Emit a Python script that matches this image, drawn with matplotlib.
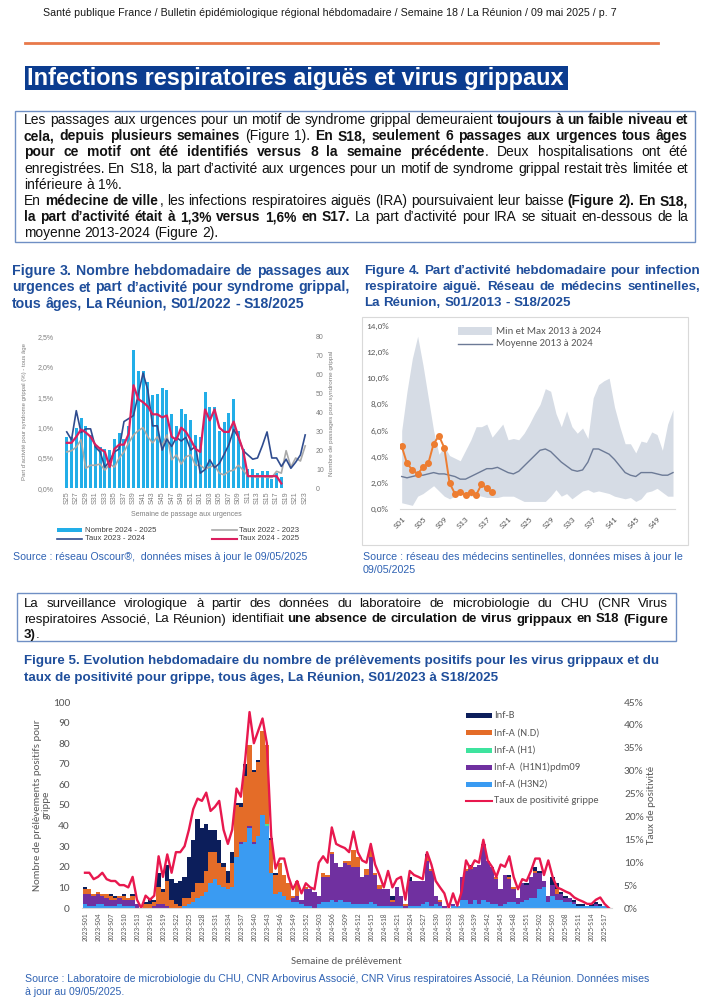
import matplotlib
matplotlib.use('Agg')
import matplotlib.pyplot as plt
from matplotlib import font_manager
from matplotlib.patches import Rectangle
from matplotlib.lines import Line2D
import numpy as np

# ------------------------------------------------------------------ data
# Figure 3 : passages aux urgences (S25 -> S24)
weeks3 = ['S%02d' % w for w in list(range(25, 53)) + list(range(1, 25))]
nombre_2425 = [27, 27, 32, 37, 33, 28, 23, 22, 21, 20, 26, 29, 26, 33, 73, 62, 62, 56, 49, 50,
               53, 52, 39, 33, 42, 39, 36, 28, 27, 51, 43, 43, 30, 35, 40, 47, 30, 21, 10, 10,
               8, 9, 9, 5, 8, 6]
taux_2223 = [0.6, 0.62, 0.68, 0.8, 0.33, 0.38, 0.38, 0.4, 0.3, 0.4, 0.35, 0.5, 0.6, 0.75, 0.88,
             0.95, 1.0, 0.85, 0.75, 0.85, 0.7, 0.88, 0.47, 0.55, 0.4, 0.52, 0.55, 0.38, 0.38, 0.32,
             0.35, 0.38, 0.25, 0.22, 0.28, 0.3, 0.38, 0.3, 0.2, 0.2, 0.18, 0.2, 0.18, 0.18, 0.28,
             0.25, 0.62, 0.35, 0.5, 0.45, 0.7]
taux_2324 = [0.93, 0.8, 1.28, 0.92, 0.98, 0.98, 0.68, 0.6, 0.35, 0.45, 0.6, 0.65, 1.1, 1.15, 1.2,
             1.55, 1.9, 1.62, 1.03, 1.03, 0.63, 0.81, 0.69, 0.84, 0.78, 0.84, 0.63, 0.69, 0.25, 0.31,
             0.47, 0.34, 0.41, 0.56, 0.72, 0.97, 0.84, 0.62, 0.55, 0.48, 0.5, 0.7, 0.93, 0.5, 0.5,
             0.36, 0.48, 0.33, 0.43, 0.55, 0.88]
taux_2425 = [0.75, 0.75, 0.85, 0.97, 0.92, 0.85, 0.72, 0.65, 0.6, 0.35, 0.65, 0.72, 0.72, 0.9, 1.7,
             1.47, 1.42, 1.35, 1.22, 1.22, 1.17, 1.2, 0.85, 0.8, 1.0, 0.93, 0.8, 0.65, 0.6, 1.3,
             1.12, 1.3, 1.0, 0.93, 0.93, 1.1, 0.85, 0.62, 0.2, 0.2, 0.2, 0.2, 0.2, 0.2, 0.2, 0.08]

# Figure 4 : IRA medecins sentinelles (S01 -> S52)
weeks4 = ['S%02d' % w for w in range(1, 53)]
ira_max = [6.0, 9.0, 11.5, 13.2, 11.0, 8.5, 6.0, 4.2, 4.8, 4.1, 3.9, 3.7, 4.5, 5.3, 6.3, 6.3, 6.5,
           5.5, 6.0, 6.5, 5.3, 5.4, 5.3, 5.8, 6.5, 7.3, 8.0, 9.2, 9.0, 7.3, 6.3, 7.5, 6.3, 5.8, 6.2,
           5.4, 8.5, 9.5, 9.8, 10.0, 7.8, 6.3, 5.0, 5.0, 4.3, 5.2, 5.1, 5.9, 5.7, 4.5, 6.5, 7.6]
ira_min = [0.5, 0.4, 0.3, 1.0, 1.2, 1.5, 1.8, 1.4, 1.0, 0.8, 1.0, 1.2, 1.2, 1.0, 1.1, 1.0, 0.9,
           0.9, 0.9, 1.0, 1.0, 1.0, 0.8, 0.6, 0.6, 0.6, 0.6, 0.6, 1.0, 1.5, 1.0, 1.2, 0.8, 1.1, 1.4,
           1.5, 1.3, 1.4, 1.3, 1.2, 1.0, 0.9, 0.8, 0.9, 0.6, 0.8, 1.3, 1.4, 1.6, 1.3, 1.0, 1.0]
ira_mean = [2.5, 2.4, 2.5, 2.6, 2.6, 2.7, 2.8, 2.7, 2.7, 2.6, 2.5, 2.3, 2.3, 2.5, 2.7, 2.9, 3.1,
            3.1, 3.2, 3.0, 2.8, 2.7, 2.9, 3.3, 3.7, 4.1, 4.5, 4.6, 4.4, 4.0, 3.6, 3.3, 3.0, 2.9, 3.0,
            3.6, 4.6, 4.6, 4.4, 4.2, 3.8, 3.3, 2.8, 2.6, 2.5, 2.8, 2.8, 2.8, 2.7, 2.6, 2.6, 2.8]
ira_2025 = [4.8, 3.5, 3.0, 2.7, 3.2, 3.5, 5.0, 5.6, 4.7, 2.0, 1.2, 1.3, 1.1, 1.3, 1.1, 1.9, 1.6, 1.3]

# Figure 5 : prelevements positifs grippe (2023-S01 -> 2025-S18)
weeks5 = (['2023-S%02d' % w for w in range(1, 53)] + ['2024-S%02d' % w for w in range(1, 53)]
          + ['2025-S%02d' % w for w in range(1, 19)])
inf_h3n2 = [2, 1, 1, 2, 2, 1, 1, 1, 2, 1, 1, 1, 0, 0, 0, 0, 0, 0, 0, 0,
            0, 0, 0, 1, 2, 3, 5, 6, 8, 12, 14, 11, 10, 9, 10, 25, 31, 32, 39, 31,
            35, 45, 40, 17, 7, 8, 6, 4, 3, 3, 2, 1, 1, 0, 2, 3, 3, 4, 3, 4,
            3, 3, 2, 2, 2, 2, 3, 2, 1, 1, 1, 1, 1, 1, 0, 1, 1, 1, 2, 3,
            1, 2, 1, 0, 0, 1, 1, 4, 4, 2, 4, 2, 4, 3, 2, 2, 1, 2, 3, 3,
            2, 3, 4, 5, 5, 9, 10, 3, 6, 4, 4, 3, 3, 2, 1, 1, 1, 1, 1, 1, 1, 0]
inf_h1n1 = [5, 6, 5, 5, 4, 4, 3, 3, 3, 3, 3, 3, 2, 0, 0, 0, 1, 2, 2, 1,
            0, 0, 0, 0, 0, 0, 0, 0, 0, 0, 0, 0, 0, 0, 0, 0, 1, 0, 1, 1,
            0, 0, 0, 0, 0, 0, 0, 0, 2, 3, 2, 8, 8, 8, 4, 12, 12, 22, 19, 16,
            19, 18, 18, 18, 13, 14, 22, 14, 8, 8, 8, 2, 9, 5, 1, 12, 12, 12, 11, 20,
            17, 4, 2, 1, 0, 1, 0, 11, 14, 17, 16, 19, 27, 20, 18, 12, 8, 14, 11, 6,
            3, 9, 7, 10, 12, 8, 3, 3, 5, 3, 3, 2, 2, 1, 0, 0, 0, 0, 1, 0, 0, 0]
inf_h1 = [0] * 42 + [1] + [0] * 79
inf_nd = [2, 2, 1, 1, 1, 2, 2, 1, 1, 2, 1, 2, 0, 0, 2, 2, 2, 8, 6, 12,
          4, 2, 1, 4, 3, 5, 7, 6, 10, 15, 13, 11, 10, 3, 12, 25, 17, 32, 39, 34,
          36, 41, 38, 16, 9, 14, 10, 8, 1, 7, 0, 1, 0, 0, 0, 2, 1, 1, 0, 0,
          1, 2, 8, 5, 0, 3, 3, 1, 2, 0, 0, 1, 0, 0, 1, 0, 0, 0, 0, 2,
          1, 0, 1, 0, 0, 0, 0, 0, 1, 1, 0, 0, 0, 0, 0, 1, 0, 0, 1, 1,
          0, 0, 0, 0, 1, 0, 0, 0, 0, 2, 0, 0, 0, 0, 0, 0, 0, 0, 0, 0, 0, 0]
inf_b = [1, 0, 0, 0, 0, 0, 1, 1, 0, 1, 0, 1, 0, 0, 1, 3, 1, 7, 1, 8,
         10, 10, 12, 10, 20, 25, 31, 27, 23, 11, 11, 11, 2, 6, 5, 1, 2, 6, 0, 1,
         1, 0, 0, 1, 1, 0, 0, 0, 0, 0, 0, 0, 0, 0, 0, 0, 0, 0, 0, 0,
         0, 0, 0, 0, 0, 0, 0, 0, 0, 0, 0, 2, 0, 0, 0, 2, 0, 0, 0, 1,
         0, 0, 0, 0, 0, 0, 0, 0, 0, 1, 0, 0, 0, 0, 0, 0, 0, 0, 1, 0,
         0, 0, 1, 0, 2, 1, 0, 0, 4, 3, 1, 1, 0, 1, 1, 1, 0, 1, 1, 1, 0, 0]
taux_pos = [7.7, 7.7, 6.3, 6.8, 7.7, 6.3, 5.9, 5.9, 5.0, 5.0, 4.5, 6.8, 1.8, 0.0, 2.7, 1.8, 2.7,
            11.3, 6.8, 11.7, 7.7, 12.2, 12.2, 13.5, 17.1, 21.6, 23.9, 23.4, 25.2, 21.2, 22.1, 23.4,
            17.1, 14.0, 17.1, 26.1, 24.3, 32.4, 42.8, 36.0, 38.7, 41.4, 36.0, 15.8, 8.6, 10.8, 10.8,
            6.8, 4.1, 5.9, 3.2, 5.4, 4.5, 4.1, 9.9, 11.3, 9.9, 17.6, 14.0, 13.5, 13.1, 12.2, 16.7,
            12.2, 10.4, 9.9, 14.0, 9.5, 7.2, 4.5, 8.1, 4.5, 6.3, 6.8, 1.8, 8.1, 7.2, 6.8, 6.3, 12.2,
            9.5, 5.9, 4.5, 3.2, 0.0, 3.2, 0.5, 3.6, 10.4, 8.6, 10.4, 9.9, 14.9, 10.4, 9.0, 6.8, 9.5,
            9.0, 11.3, 6.8, 4.1, 6.3, 5.9, 8.1, 10.8, 10.8, 7.2, 10.4, 6.8, 4.5, 4.1, 3.6, 3.2, 2.3,
            1.8, 1.4, 0.9, 0.9, 1.8, 2.3, 0.9, 0.0]

# ------------------------------------------------------------------ fonts
def pick_font(names):
    for n in names:
        try:
            font_manager.findfont(n, fallback_to_default=False)
            return n
        except ValueError:
            pass
    return 'DejaVu Sans'

NARROW = pick_font(['Liberation Sans Narrow', 'Arial Narrow', 'Liberation Sans'])
ARIAL = pick_font(['Liberation Sans', 'Arial'])
CALIBRI = pick_font(['Carlito', 'Lato', 'Open Sans'])

BLUE_T = '#1F4E9B'
BLUE_S = '#2F62B3'
GREY = '#7F7F7F'

W, H = 708, 1000
fig = plt.figure(figsize=(7.08, 10), dpi=100)
rend = fig.canvas.get_renderer()


def fx(x):
    return x / W


def fy(y):
    return 1 - y / H


def put(x, y, s, size, bold=False, color='#111111', family=NARROW, **kw):
    return fig.text(fx(x), fy(y), s, fontsize=size, fontweight='bold' if bold else 'normal',
                    color=color, family=family, **kw)


def text_w(s, size, bold=False, family=NARROW):
    t = fig.text(0, 0, s, fontsize=size, fontweight='bold' if bold else 'normal', family=family)
    w = t.get_window_extent(rend).width
    t.remove()
    return w


def fit(s, width, bold=False, family=NARROW):
    return 10 * width / text_w(s, 10, bold, family)


def parse(line, bold_all=False):
    words = [[]]
    for k, part in enumerate(line.split('**')):
        bold = bold_all or (k % 2 == 1)
        for j, p in enumerate(part.split(' ')):
            if j > 0:
                words.append([])
            if p:
                words[-1].append((p, bold))
    return [w for w in words if w]


def word_w(word, size, family):
    return sum(text_w(p, size, b, family) for p, b in word)


def justified(lines, x0, x1, y0, dy, color='#111111', family=NARROW, bold_all=False):
    parsed = [parse(l, bold_all) for l in lines]
    sp10 = text_w('a a', 10, False, family) - text_w('aa', 10, False, family)
    ratios = []
    for words in parsed[:-1]:
        nat = sum(word_w(w, 10, family) for w in words) + sp10 * (len(words) - 1)
        ratios.append((x1 - x0) / nat)
    size = 10 * min(ratios)
    sp = sp10 * size / 10
    for n, words in enumerate(parsed):
        widths = [word_w(w, size, family) for w in words]
        if n == len(parsed) - 1:
            gap = sp
        else:
            gap = (x1 - x0 - sum(widths)) / (len(words) - 1)
        x = x0
        for w, wd in zip(words, widths):
            xx = x
            for p, b in w:
                put(xx, y0 + n * dy, p, size, b, color, family, va='baseline')
                xx += text_w(p, size, b, family)
            x += wd + gap
    return size


def frame(x0, y0, x1, y1, ec, lw=1.0):
    fig.add_artist(Rectangle((fx(x0), fy(y1)), (x1 - x0) / W, (y1 - y0) / H, fill=False,
                             ec=ec, lw=lw, transform=fig.transFigure))


def hline(x0, x1, y, color, lw):
    fig.add_artist(Line2D([fx(x0), fx(x1)], [fy(y), fy(y)], color=color, lw=lw))


def patch(x0, x1, yc, h, color):
    fig.add_artist(Rectangle((fx(x0), fy(yc + h / 2)), (x1 - x0) / W, h / H, color=color,
                             lw=0, transform=fig.transFigure))

# ------------------------------------------------------------------ page header
header = ('Santé publique France / Bulletin épidémiologique régional hébdomadaire / '
          'Semaine 18 / La Réunion / 09 mai 2025 / p. 7')
put(43, 16, header, fit(header, 565), color='#1a1a1a', va='baseline')
hline(25, 658, 43, '#E8794A', 2)

fig.add_artist(Rectangle((fx(25), fy(90)), 543 / W, 24 / H, color='#0B3C8F', lw=0,
                         transform=fig.transFigure))
banner = 'Infections respiratoires aiguës et virus grippaux'
put(27, 85, banner, fit(banner, 538, True), True, 'white', va='baseline')

# ------------------------------------------------------------------ text box 1
frame(15, 111, 695, 242, '#6F8FC4')
p1 = ['Les passages aux urgences pour un motif de syndrome grippal demeuraient **toujours à un faible niveau et**',
      '**cela, depuis plusieurs semaines** (Figure 1). **En S18, seulement 6 passages aux urgences tous âges**',
      '**pour ce motif ont été identifiés versus 8 la semaine précédente**. Deux hospitalisations ont été',
      'enregistrées. En S18, la part d’activité aux urgences pour un motif de syndrome grippal restait très limitée et',
      'inférieure à 1%.']
justified(p1, 24, 688, 124, 16.2)
p2 = ['En **médecine de ville**, les infections respiratoires aiguës (IRA) poursuivaient leur baisse **(Figure 2). En S18,**',
      '**la part d’activité était à 1,3% versus 1,6% en S17.** La part d’activité pour IRA se situait en-dessous de la',
      'moyenne 2013-2024 (Figure 2).']
justified(p2, 24, 688, 205, 16)

# ------------------------------------------------------------------ figure titles
justified(['Figure 3. Nombre hebdomadaire de passages aux',
           'urgences et part d’activité pour syndrome grippal,',
           'tous âges, La Réunion, S01/2022 - S18/2025'],
          12, 350, 275, 16.5, BLUE_T, ARIAL, True)
justified(['Figure 4.  Part d’activité hebdomadaire pour infection',
           'respiratoire aiguë. Réseau de médecins sentinelles,',
           'La Réunion, S01/2013 - S18/2025'],
          364, 700, 274, 16, BLUE_T, ARIAL, True)

# ------------------------------------------------------------------ figure 3
x3 = np.arange(len(weeks3))
ax3 = fig.add_axes([fx(63.4), fy(488.3), (313.3 - 63.4) / W, (488.3 - 336.7) / H])
ax3b = ax3.twinx()
ax3b.bar(x3[:len(nombre_2425)], nombre_2425, width=0.62, color='#22AEE8', lw=0)
ax3.plot(x3[:len(taux_2223)], taux_2223, color='#A9A9A9', lw=1.2)
ax3.plot(x3[:len(taux_2324)], taux_2324, color='#2F4C8F', lw=1.2)
ax3.plot(x3[:len(taux_2425)], taux_2425, color='#DB1F5F', lw=1.6)
ax3.set_zorder(ax3b.get_zorder() + 1)
ax3.patch.set_visible(False)
ax3.set_xlim(-0.7, 51.7)
ax3.set_ylim(0, 2.5)
ax3b.set_ylim(0, 80)
ax3.set_yticks(np.arange(0, 2.51, 0.5))
ax3.set_yticklabels([('%.1f%%' % v).replace('.', ',') for v in np.arange(0, 2.51, 0.5)])
ax3b.set_yticks(range(0, 81, 10))
ax3.set_xticks(x3[::2])
ax3.set_xticklabels(weeks3[::2], rotation=90)
for a in (ax3, ax3b):
    for s in a.spines.values():
        s.set_visible(False)
    a.tick_params(length=0, labelsize=5, labelcolor=GREY)
    for l in a.get_xticklabels() + a.get_yticklabels():
        l.set_family(ARIAL)
ax3.tick_params(axis='y', pad=7)
ax3.tick_params(axis='x', pad=2)
ax3b.tick_params(axis='y', pad=2)
put(25, 412, 'Part d’activité pour syndrome grippal (%) - tous âge', 4.3, color=GREY, family=ARIAL,
    rotation=90, ha='center', va='center')
put(332, 413, 'Nombre de passages pour syndrome grippal', 4.6, color=GREY, family=ARIAL,
    rotation=90, ha='center', va='center')
put(186, 514, 'Semaine de passage aux urgences', 5, color=GREY, family=ARIAL, ha='center', va='center')
patch(57, 82, 530, 4.5, '#22AEE8')
hline(57, 82, 539, '#2F4C8F', 1.2)
hline(212, 237, 530, '#A9A9A9', 1.2)
hline(212, 237, 539, '#DB1F5F', 1.5)
put(85, 530, 'Nombre 2024 - 2025', 5.6, color='#404040', family=ARIAL, va='center')
put(85, 539, 'Taux 2023 - 2024', 5.6, color='#404040', family=ARIAL, va='center')
put(239, 530, 'Taux 2022 - 2023', 5.6, color='#404040', family=ARIAL, va='center')
put(239, 539, 'Taux 2024 - 2025', 5.6, color='#404040', family=ARIAL, va='center')
src3 = 'Source : réseau Oscour®,  données mises à jour le 09/05/2025'
put(13, 560, src3, fit(src3, 294, False, ARIAL), color=BLUE_S, family=ARIAL, va='baseline')

# ------------------------------------------------------------------ figure 4
frame(362, 317, 688, 545, '#D9D9D9', 0.8)
x4 = np.arange(len(weeks4))
ax4 = fig.add_axes([fx(400.1), fy(509.3), 274.5 / W, 183.6 / H])
ax4.fill_between(x4, ira_min, ira_max, color='#D6DCE5', lw=0)
ax4.plot(x4, ira_mean, color='#6C7A96', lw=1)
ax4.plot(x4[:len(ira_2025)], ira_2025, color='#ED7D31', lw=1.4, marker='o', ms=4)
ax4.set_xlim(-0.3, 51.3)
ax4.set_ylim(0, 14)
ax4.set_yticks(range(0, 15, 2))
ax4.set_yticklabels(['%d,0%%' % v for v in range(0, 15, 2)])
ax4.set_xticks(x4[::4])
ax4.set_xticklabels(weeks4[::4], rotation=45, ha='right', va='top', rotation_mode='anchor')
for s in ('left', 'top', 'right'):
    ax4.spines[s].set_visible(False)
ax4.spines['bottom'].set_color('#D9D9D9')
ax4.tick_params(length=0, labelsize=6.6, labelcolor='#595959')
ax4.tick_params(axis='y', pad=8)
ax4.tick_params(axis='x', pad=4)
for l in ax4.get_xticklabels() + ax4.get_yticklabels():
    l.set_family(CALIBRI)
patch(458, 492, 331, 8, '#D6DCE5')
hline(458, 492, 343.5, '#6C7A96', 1)
leg4 = 'Min et Max 2013 à 2024'
s4 = fit(leg4, 105, False, CALIBRI)
put(496, 331, leg4, s4, color='#595959', family=CALIBRI, va='center')
put(496, 343.5, 'Moyenne 2013 à 2024', s4, color='#595959', family=CALIBRI, va='center')
src4 = 'Source : réseau des médecins sentinelles, données mises à jour le'
s4b = fit(src4, 314, False, ARIAL)
put(363, 560, src4, s4b, color=BLUE_S, family=ARIAL, va='baseline')
put(363, 573, '09/05/2025', s4b, color=BLUE_S, family=ARIAL, va='baseline')

# ------------------------------------------------------------------ text box 2
frame(17, 593, 676, 641, '#6F8FC4')
justified(['La surveillance virologique à partir des données du laboratoire de microbiologie du CHU (CNR Virus',
           'respiratoires Associé, La Réunion) identifiait **une absence de circulation de virus grippaux en S18 (Figure**',
           '**3)**.'],
          24, 668, 607, 15.5)

t5a = 'Figure 5. Evolution hebdomadaire du nombre de prélèvements positifs pour les virus grippaux et du'
s5 = fit(t5a, 641, True)
put(24, 664, t5a, s5, True, BLUE_T, va='baseline')
put(24, 681, 'taux de positivité pour grippe, tous âges, La Réunion, S01/2023 à S18/2025', s5, True,
    BLUE_T, va='baseline')

# ------------------------------------------------------------------ figure 5
x5 = np.arange(len(weeks5))
series5 = [(inf_h3n2, '#3A9BF2', 'Inf-A (H3N2)'),
           (inf_h1n1, '#7030A0', 'Inf-A  (H1N1)pdm09'),
           (inf_h1, '#3EE39E', 'Inf-A (H1)'),
           (inf_nd, '#E46C28', 'Inf-A (N.D)'),
           (inf_b, '#0C1E5B', 'Inf-B')]
ax5 = fig.add_axes([fx(82.4), fy(908), (611.5 - 82.4) / W, 206 / H])
ax5b = ax5.twinx()
bottom = np.zeros(len(weeks5))
for vals, col, lab in series5:
    ax5.bar(x5, vals, bottom=bottom, width=1.0, color=col, lw=0)
    bottom = bottom + np.array(vals)
ax5b.plot(x5, taux_pos, color='#E8184E', lw=1.7)
ax5.set_xlim(-0.6, 121.6)
ax5.set_ylim(0, 100)
ax5b.set_ylim(0, 45)
ax5.set_yticks(range(0, 101, 10))
ax5b.set_yticks(range(0, 46, 5))
ax5b.set_yticklabels(['%d%%' % v for v in range(0, 46, 5)])
ax5.set_xticks(x5[::3])
ax5.set_xticklabels(weeks5[::3], rotation=90)
for a in (ax5, ax5b):
    for s in a.spines.values():
        s.set_visible(False)
    a.tick_params(length=0, labelcolor='#595959')
    for l in a.get_xticklabels() + a.get_yticklabels():
        l.set_family(CALIBRI)
ax5.spines['bottom'].set_visible(True)
ax5.spines['bottom'].set_color('#D9D9D9')
ax5.tick_params(axis='y', labelsize=8.2, pad=9)
ax5b.tick_params(axis='y', labelsize=8.2, pad=9)
ax5.tick_params(axis='x', labelsize=5.4, pad=3)
put(42, 805, 'Nombre de prélèvements positifs pour\ngrippe', 7.8, color='#595959', family=CALIBRI,
    rotation=90, ha='center', va='center', multialignment='center', linespacing=1.0)
put(652, 805, 'Taux de positivité', 7.8, color='#595959', family=CALIBRI, rotation=90,
    ha='center', va='center')
put(346, 962, 'Semaine de prélèvement', 7.8, color='#595959', family=CALIBRI, ha='center', va='center')

leg_rows = [715.7, 732.7, 750, 767, 784, 800.7]
s5l = fit('Taux de positivité grippe', 105, False, CALIBRI)
for (vals, col, lab), yy in zip(series5[::-1], leg_rows):
    patch(466, 492, yy, 5, col)
    put(494, yy, lab, s5l, color='#595959', family=CALIBRI, va='center')
hline(466, 492, leg_rows[-1], '#E8184E', 1.5)
put(494, leg_rows[-1], 'Taux de positivité grippe', s5l, color='#595959', family=CALIBRI, va='center')

src5 = ('Source : Laboratoire de microbiologie du CHU, CNR Arbovirus Associé, CNR Virus '
        'respiratoires Associé, La Réunion. Données mises')
s5s = fit(src5, 627, False, ARIAL)
put(25, 982, src5, s5s, color=BLUE_S, family=ARIAL, va='baseline')
put(25, 995, 'à jour au 09/05/2025.', s5s, color=BLUE_S, family=ARIAL, va='baseline')

fig.savefig('out.png', dpi=100, facecolor='white')
